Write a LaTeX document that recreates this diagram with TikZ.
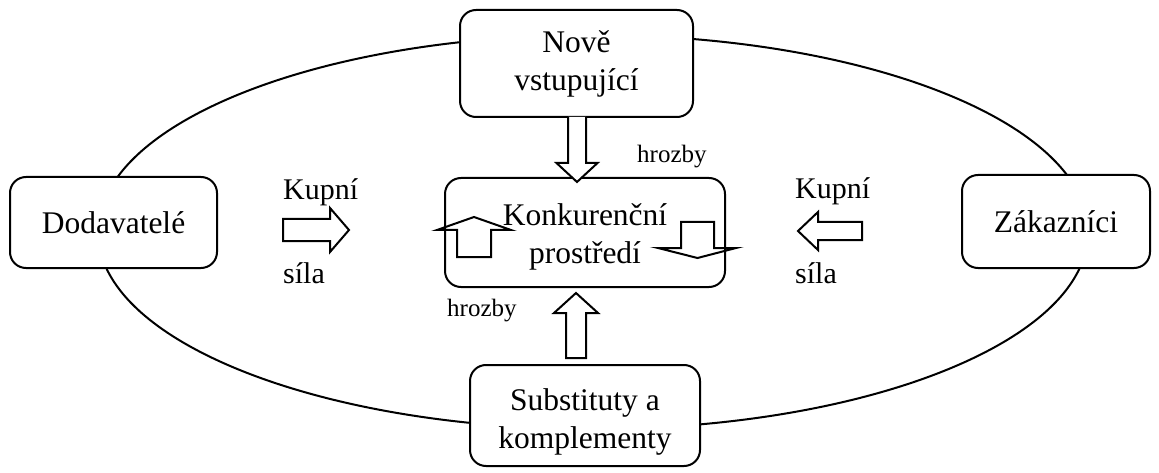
\documentclass[tikz,border=0pt]{standalone}
\usepackage{fontspec}
\setmainfont{Liberation Serif}
\newcommand{\lowered}[2]{\raisebox{-#1}[\height][\depth]{\begin{tabular}{@{}c@{}}#2\end{tabular}}}
\begin{document}
\begin{tikzpicture}[x=1pt,y=-1pt,
  box/.style={draw, line width=2pt, rounded corners=16pt, fill=white, align=center,
    font=\fontsize{31.5}{38}\selectfont, inner sep=0pt},
  lbl/.style={font=\fontsize{30}{36}\selectfont, inner sep=0pt, anchor=base west},
  small/.style={font=\fontsize{25}{30}\selectfont, inner sep=0pt, anchor=base west},
  barrow/.style={draw, line width=2pt, line join=miter, fill=white},
  inarrow/.style={draw, line width=2pt, line join=miter}]
\useasboundingbox (0,0) rectangle (1159,473);
\draw[line width=2pt] (593,232) ellipse [x radius=495, y radius=197];

\node[box, minimum width=207pt, minimum height=91pt] (dod) at (113.5,222.5) {Dodavatelé};
\node[box, minimum width=188pt, minimum height=93pt] (zak) at (1056,221.5) {Zákazníci};
\node[box, minimum width=233pt, minimum height=107pt] (nove) at (576.5,63.5) {Nově\\vstupující};
\node[box, minimum width=280pt, minimum height=109pt] (konk) at (585,232.5) {\lowered{4pt}{Konkurenční\\prostředí}};
\node[box, minimum width=230pt, minimum height=101pt] (subst) at (585,415.5) {\lowered{6pt}{Substituty a\\komplementy}};

% block arrows
\draw[barrow] (568,117) -- (568,163) -- (556.5,163) -- (577,182) -- (597.5,163) -- (586,163) -- (586,117);
\draw[barrow] (566,358) -- (566,313) -- (554,313) -- (576,293) -- (598,313) -- (586,313) -- (586,358) -- cycle;
\draw[barrow] (283,219) -- (330,219) -- (330,208) -- (349,230) -- (330,252) -- (330,241) -- (283,241) -- cycle;
\draw[barrow] (862,222) -- (818,222) -- (818,212) -- (798,231) -- (818,250) -- (818,240) -- (862,240) -- cycle;
\draw[inarrow] (457,257) -- (457,230) -- (437,230) -- (474,217) -- (511,230) -- (491,230) -- (491,257) -- cycle;
\draw[inarrow] (681,222) -- (681,248) -- (658,248) -- (697.5,258) -- (736,248) -- (714,248) -- (714,222) -- cycle;

% labels
\node[lbl] (k1) at (283,200) {Kupní};
\node[lbl] (s1) at (283,283) {síla};
\node[lbl] (k2) at (795,199) {Kupní};
\node[lbl] (s2) at (795,283) {síla};
\node[small] (h1) at (637,163) {hrozby};
\node[small] (h2) at (447,316) {hrozby};
\end{tikzpicture}
\end{document}
